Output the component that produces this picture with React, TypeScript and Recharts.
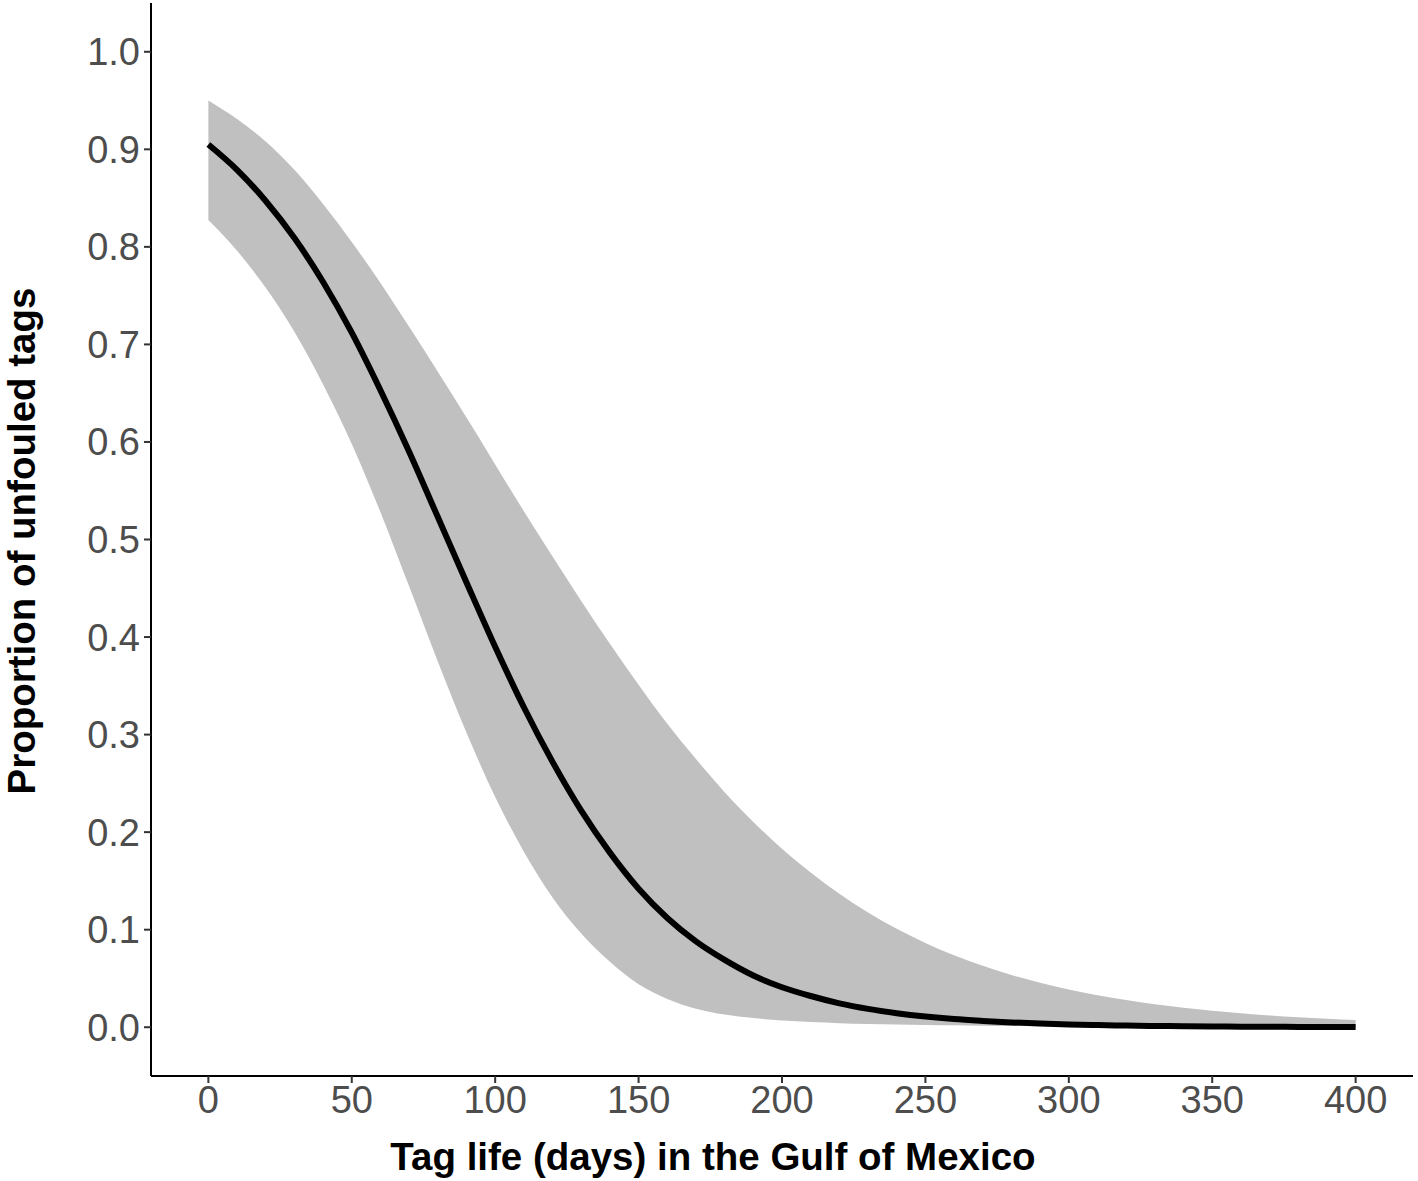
import React from 'react';
import { ComposedChart, Area, Line, XAxis, YAxis } from 'recharts';

// Tag life in days (x), fitted proportion of unfouled tags and its 95% band
const days = [
  0, 10, 20, 30, 40, 50, 60, 70, 80, 90, 100, 110, 120, 130, 140, 150, 160, 170, 180, 190, 200,
  210, 220, 230, 240, 250, 260, 270, 280, 290, 300, 310, 320, 330, 340, 350, 360, 370, 380, 390, 400,
];
const fitted = [
  0.905, 0.879, 0.847, 0.809, 0.764, 0.712, 0.653, 0.59, 0.523, 0.456, 0.39, 0.328, 0.272, 0.222,
  0.179, 0.142, 0.112, 0.088, 0.069, 0.053, 0.041, 0.032, 0.0245, 0.0188, 0.0144, 0.011, 0.0084,
  0.0065, 0.0049, 0.0038, 0.0029, 0.0022, 0.0017, 0.0013, 0.001, 0.00075, 0.00057, 0.00044, 0.00033,
  0.00025, 0.00019,
];
const lower = [
  0.8275, 0.796, 0.758, 0.713, 0.659, 0.598, 0.528, 0.452, 0.375, 0.302, 0.236, 0.18, 0.133, 0.096,
  0.067, 0.044, 0.029, 0.019, 0.013, 0.0094, 0.0069, 0.0053, 0.0042, 0.0034, 0.0028, 0.0023,
  0.0019, 0.0016, 0.0013, 0.0011, 0.0009, 0.0008, 0.0007, 0.0006, 0.0005, 0.0004, 0.0003, 0.0003,
  0.0002, 0.0002, 0.0001,
];
const upper = [
  0.95, 0.931, 0.908, 0.879, 0.844, 0.805, 0.763, 0.718, 0.672, 0.625, 0.577, 0.529, 0.4825, 0.437,
  0.393, 0.351, 0.311, 0.275, 0.241, 0.2105, 0.183, 0.1586, 0.1368, 0.1176, 0.1009, 0.0864, 0.0737,
  0.0629, 0.0535, 0.0455, 0.0386, 0.0327, 0.0278, 0.0235, 0.0199, 0.0168, 0.0143, 0.012, 0.0102,
  0.0086, 0.0073,
];

const xTicks = [0, 50, 100, 150, 200, 250, 300, 350, 400];
const yTicks = [0, 0.1, 0.2, 0.3, 0.4, 0.5, 0.6, 0.7, 0.8, 0.9, 1.0];

const data = days.map((d, i) => ({
  day: d,
  fit: fitted[i],
  band: [lower[i], upper[i]],
}));

const FONT = '"Liberation Sans", Arial, Helvetica, sans-serif';
const tickStyle = { fontSize: 38, fill: '#4d4d4d', fontFamily: FONT };

export default function App() {
  return (
    <div style={{ position: 'absolute', left: 0, top: 0, width: 1418, height: 1181, background: '#fff' }}>
      <ComposedChart
        width={1418}
        height={1181}
        data={data}
        margin={{ top: 3, right: 5, bottom: 0, left: 0 }}
      >
        <XAxis
          dataKey="day"
          type="number"
          domain={[-20, 420]}
          ticks={xTicks}
          height={105}
          tick={tickStyle}
          tickSize={7}
          tickMargin={3}
          axisLine={{ stroke: '#000', strokeWidth: 2 }}
          tickLine={{ stroke: '#333', strokeWidth: 2 }}
        />
        <YAxis
          type="number"
          domain={[-0.05, 1.05]}
          ticks={yTicks}
          width={151}
          tick={tickStyle}
          tickSize={7}
          tickMargin={4}
          tickFormatter={(v: number) => v.toFixed(1)}
          axisLine={{ stroke: '#000', strokeWidth: 2 }}
          tickLine={{ stroke: '#333', strokeWidth: 2 }}
          allowDataOverflow
        />
        <Area
          dataKey="band"
          type="monotone"
          fill="#c0c0c0"
          fillOpacity={1}
          stroke="none"
          isAnimationActive={false}
        />
        <Line
          dataKey="fit"
          type="monotone"
          stroke="#000"
          strokeWidth={6}
          dot={false}
          isAnimationActive={false}
        />
      </ComposedChart>
      {/* axis titles drawn in an overlay */}
      <svg
        width={1418}
        height={1181}
        style={{ position: 'absolute', left: 0, top: 0, pointerEvents: 'none' }}
      >
        <text
          x={713}
          y={1170}
          textAnchor="middle"
          fontFamily={FONT}
          fontWeight="bold"
          fontSize={38.5}
          fill="#000"
        >
          Tag life (days) in the Gulf of Mexico
        </text>
        <text
          transform="translate(35, 541) rotate(-90)"
          textAnchor="middle"
          fontFamily={FONT}
          fontWeight="bold"
          fontSize={38.5}
          fill="#000"
        >
          Proportion of unfouled tags
        </text>
      </svg>
    </div>
  );
}
